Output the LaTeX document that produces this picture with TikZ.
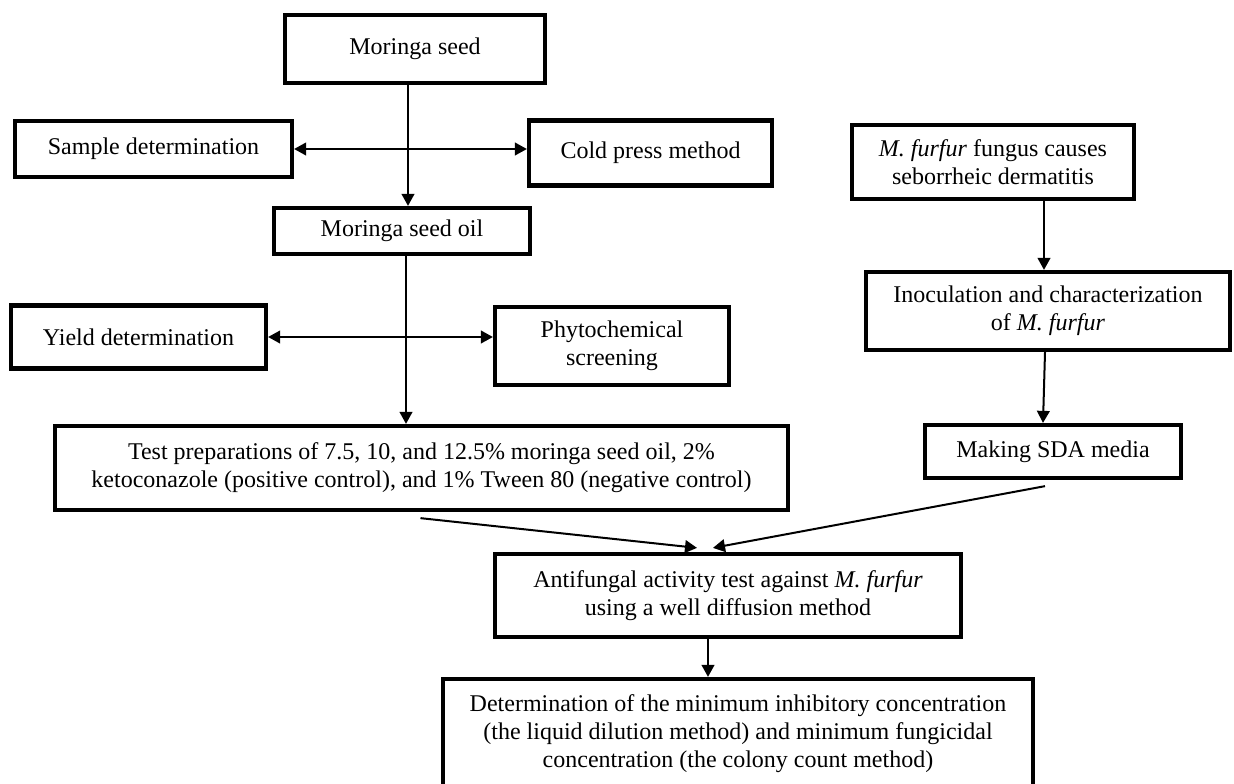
\documentclass[tikz,border=0pt]{standalone}
\usepackage{fontspec}
\setmainfont{Liberation Serif}
\usetikzlibrary{arrows.meta,calc}
\begin{document}
\begin{tikzpicture}[x=0.75pt,y=-0.75pt,
  font=\fontsize{18pt}{21pt}\selectfont,
  box/.style={draw, line width=3.2pt, fill=white, align=center, inner sep=0pt},
  sz/.style 2 args={minimum width={#1*0.75pt}, minimum height={#2*0.75pt}},
  arr/.style={line width=1.5pt, -{Triangle[length=9pt,width=9.5pt]}},
  darr/.style={line width=1.5pt, {Triangle[length=9pt,width=9.5pt]}-{Triangle[length=9pt,width=9.5pt]}}]
\useasboundingbox (0,0) rectangle (1234,783);

\node[box,sz={260}{68}] (seed) at (415,49) {Moringa seed};
\node[box,sz={277}{56}] (sample) at (153.5,149) {Sample determination};
\node[box,sz={243}{65}] (cold) at (650.5,153) {Cold press method};
\node[box,sz={256}{46}] (oil) at (402,231) {Moringa seed oil};
\node[box,sz={255}{63}] (yield) at (138.5,337) {Yield determination};
\node[box,sz={234}{78}] (phyto) at (612,346) {Phytochemical\\screening};
\node[box,sz={733}{84}] (test) at (421.5,468) {Test preparations of 7.5, 10, and 12.5\% moringa seed oil, 2\%\\ketoconazole (positive control), and 1\% Tween 80 (negative control)};
\node[box,sz={282}{74}] (mf) at (993,162) {\textit{M. furfur} fungus causes\\seborrheic dermatitis};
\node[box,sz={364}{78}] (inoc) at (1048,311) {Inoculation and characterization\\of \textit{M. furfur}};
\node[box,sz={256}{53}] (sda) at (1053,451.5) {Making SDA media};
\node[box,sz={466}{83}] (anti) at (728,595.5) {Antifungal activity test against \textit{M. furfur}\\using a well diffusion method};
\node[box,sz={590}{110}] (final) at (738,734) {Determination of the minimum inhibitory concentration\\(the liquid dilution method) and minimum fungicidal\\concentration (the colony count method)};

\coordinate (xa) at (408,0);
\coordinate (xb) at (406,0);
\coordinate (xc) at (1044,0);
\coordinate (xd) at (708,0);

\draw[arr] (seed.south -| xa) -- (oil.north -| xa);
\draw[darr] (sample.east) -- (cold.west |- sample.east);
\draw[arr] (oil.south -| xb) -- (test.north -| xb);
\draw[darr] (yield.east) -- (phyto.west |- yield.east);
\draw[arr] (mf.south -| xc) -- (inoc.north -| xc);
\draw[arr] ($(inoc.south)+(-3,0)$) -- ($(sda.north)+(-10,0)$);
\draw[arr] ($(test.south)+(-1,6)$) -- ($(anti.north)+(-31,-4)$);
\draw[arr] ($(sda.south)+(-8,6)$) -- ($(anti.north)+(-15,-4)$);
\draw[arr] (anti.south -| xd) -- (final.north -| xd);
\end{tikzpicture}
\end{document}
